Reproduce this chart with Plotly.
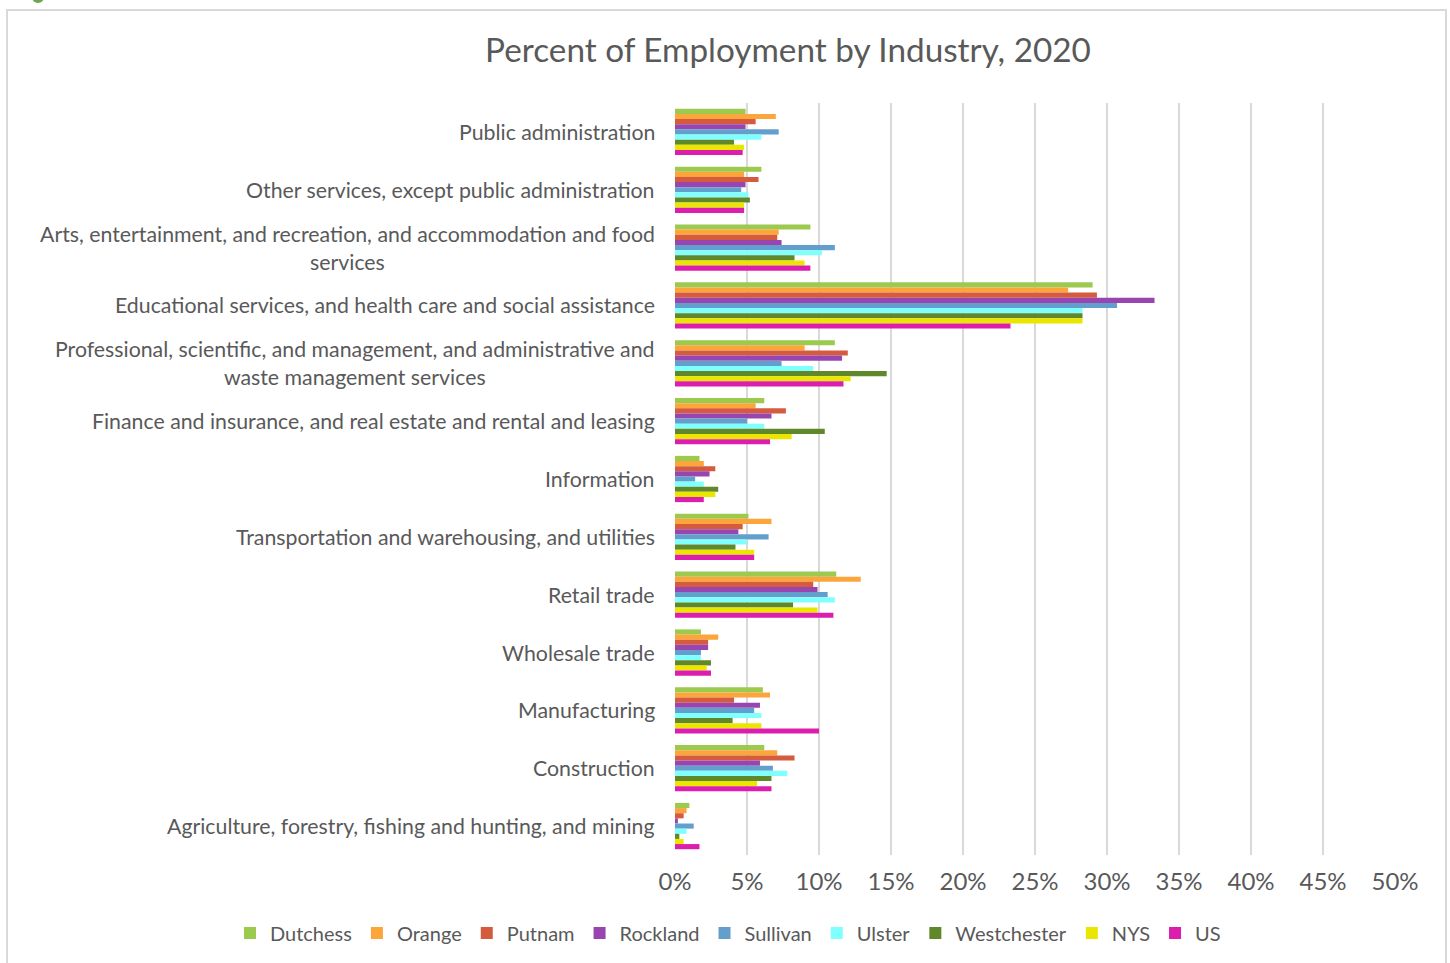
import plotly.graph_objects as go

categories = [
    "Public administration",
    "Other services, except public administration",
    "Arts, entertainment, and recreation, and accommodation and food<br>services",
    "Educational services, and health care and social assistance",
    "Professional, scientific, and management, and administrative and<br>waste management services",
    "Finance and insurance, and real estate and rental and leasing",
    "Information",
    "Transportation and warehousing, and utilities",
    "Retail trade",
    "Wholesale trade",
    "Manufacturing",
    "Construction",
    "Agriculture, forestry, fishing and hunting, and mining",
]

dutchess    = [4.9, 6.0, 9.4, 29.0, 11.1, 6.2, 1.7, 5.1, 11.2, 1.8, 6.1, 6.2, 1.0]
orange      = [7.0, 4.8, 7.2, 27.3, 9.0, 5.6, 2.0, 6.7, 12.9, 3.0, 6.6, 7.1, 0.8]
putnam      = [5.6, 5.8, 7.1, 29.3, 12.0, 7.7, 2.8, 4.7, 9.6, 2.3, 4.1, 8.3, 0.6]
rockland    = [4.9, 4.9, 7.4, 33.3, 11.6, 6.7, 2.4, 4.4, 9.9, 2.3, 5.9, 5.9, 0.2]
sullivan    = [7.2, 4.6, 11.1, 30.7, 7.4, 5.0, 1.4, 6.5, 10.6, 1.8, 5.5, 6.8, 1.3]
ulster      = [6.0, 5.1, 10.2, 28.3, 9.6, 6.2, 2.0, 5.0, 11.1, 1.8, 6.0, 7.8, 0.8]
westchester = [4.1, 5.2, 8.3, 28.3, 14.7, 10.4, 3.0, 4.2, 8.2, 2.5, 4.0, 6.7, 0.3]
nys         = [4.8, 4.8, 9.0, 28.3, 12.2, 8.1, 2.8, 5.5, 9.9, 2.2, 6.0, 5.7, 0.6]
us          = [4.7, 4.8, 9.4, 23.3, 11.7, 6.6, 2.0, 5.5, 11.0, 2.5, 10.0, 6.7, 1.7]

series_names = ["Dutchess", "Orange", "Putnam", "Rockland", "Sullivan",
                "Ulster", "Westchester", "NYS", "US"]
series_values = [dutchess, orange, putnam, rockland, sullivan,
                 ulster, westchester, nys, us]
colors = ["#9BCA4F", "#FBA53B", "#D55B3E", "#9845B0", "#639FCC",
          "#80FFFF", "#60872A", "#EAE600", "#DC1EAF"]

x_ticks = list(range(0, 55, 5))
x_tick_labels = [f"{t}%" for t in x_ticks]

FONT = "Lato"
GRAY = "#595959"

PL, PR, PT, PB = 675, 1395, 103, 855
PW, PH = PR - PL, PB - PT


def px(xp):
    return (xp - PL) / PW


def py(yp):
    return (PB - yp) / PH


fig = go.Figure()
for name, vals, col in zip(series_names, series_values, colors):
    fig.add_trace(go.Bar(
        y=categories, x=vals, name=name, orientation="h",
        marker=dict(color=col, line=dict(width=0)),
    ))

for cat in categories:
    fig.add_annotation(
        x=0, xref="paper", y=cat, yref="y", text=cat,
        xanchor="right", yanchor="middle", align="center", xshift=-18,
        showarrow=False, font=dict(family=FONT, size=21.3, color=GRAY),
    )

fig.update_layout(
    width=1450, height=963,
    margin=dict(l=PL, r=1450 - PR, t=PT, b=963 - PB, autoexpand=False),
    paper_bgcolor="white", plot_bgcolor="white",
    barmode="group", bargap=0.2, bargroupgap=0,
    font=dict(family=FONT, size=20, color=GRAY),
    title=dict(text="Percent of Employment by Industry, 2020",
               x=788 / 1450, xanchor="center", y=1 - 50 / 963, yanchor="middle",
               font=dict(family=FONT, size=33.3, color=GRAY)),
    showlegend=True,
    legend=dict(orientation="h", xref="paper", yref="paper",
                x=px(230), xanchor="left", y=py(933), yanchor="middle",
                font=dict(family=FONT, size=20, color=GRAY),
                itemwidth=30, traceorder="normal"),
    xaxis=dict(range=[0, 50], tickvals=x_ticks, ticktext=x_tick_labels,
               showgrid=True, gridcolor="#D9D9D9", gridwidth=2,
               zeroline=False, showline=False, ticks="",
               ticklabelstandoff=10,
               tickfont=dict(family=FONT, size=24, color=GRAY)),
    yaxis=dict(categoryorder="array", categoryarray=categories,
               autorange="reversed", showticklabels=False, showgrid=False,
               zeroline=False, showline=False, ticks=""),
    shapes=[
        dict(type="rect", xref="paper", yref="paper",
             x0=px(7), x1=px(1446), y0=py(975), y1=py(10),
             line=dict(color="#D9D9D9", width=2), fillcolor="rgba(0,0,0,0)",
             layer="below"),
        dict(type="circle", xref="paper", yref="paper",
             x0=px(32), x1=px(44), y0=py(3), y1=py(-9),
             line=dict(width=0), fillcolor="#6AA84F"),
    ],
)

fig.write_html(
    "out.html",
    config={"displayModeBar": False},
    post_script="document.body.style.margin='0px';document.body.style.padding='0px';",
)
